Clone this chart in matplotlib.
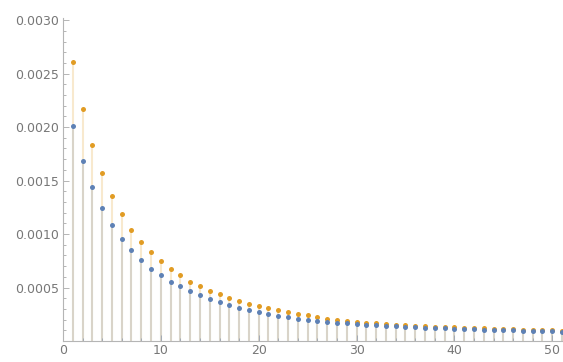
import matplotlib; matplotlib.use("Agg")
import matplotlib.pyplot as plt
from matplotlib.ticker import MultipleLocator, FormatStrFormatter

# ---- data ----
n = list(range(1, 52))
orange = [0.00261, 0.00217, 0.00183, 0.00157, 0.00136, 0.00119, 0.00104, 0.00093, 0.00083, 0.00075,
          0.00067, 0.00062, 0.00055, 0.00051, 0.00047, 0.00044, 0.00040, 0.00037, 0.00035, 0.00033,
          0.00031, 0.00029, 0.00027, 0.00025, 0.00024, 0.00022, 0.00021, 0.00020, 0.00019, 0.00018,
          0.00017, 0.00017, 0.00016, 0.00015, 0.00015, 0.00014, 0.00014, 0.00013, 0.00013, 0.00013,
          0.00012, 0.00012, 0.00012, 0.00011, 0.00011, 0.00011, 0.00010, 0.00010, 0.00010, 0.00010,
          0.00009]
blue = [0.00201, 0.00168, 0.00144, 0.00124, 0.00108, 0.00095, 0.00085, 0.00076, 0.00067, 0.00062,
        0.00055, 0.00051, 0.00047, 0.00043, 0.00039, 0.00036, 0.00034, 0.00031, 0.00029, 0.00027,
        0.00025, 0.00023, 0.00022, 0.00021, 0.00020, 0.00019, 0.00018, 0.00017, 0.00017, 0.00016,
        0.00015, 0.00015, 0.00014, 0.00014, 0.00013, 0.00013, 0.00012, 0.00012, 0.00012, 0.00011,
        0.00011, 0.00011, 0.00010, 0.00010, 0.00010, 0.00010, 0.00009, 0.00009, 0.00009, 0.00009,
        0.00008]

c_blue, c_orange = "#5E81B5", "#E19C24"
axis_c, text_c = "#b5b5b5", "#777777"

fig = plt.figure(figsize=(5.63, 3.62), dpi=100)
ax = fig.add_axes([63/563, 21/362, 500/563, 323/362])

# stems (filling to axis), then points
ax.vlines(n, 0, orange, colors=c_orange, alpha=0.22, lw=1.5, zorder=1)
ax.vlines(n, 0, blue, colors=c_blue, alpha=0.2, lw=1.5, zorder=2)
ax.plot(n, blue, "o", color=c_blue, ms=3.6, mec="none", zorder=4)
ax.plot(n, orange, "o", color=c_orange, ms=3.6, mec="none", zorder=3)

ax.set_xlim(0, 51.1)
ax.set_ylim(0, 0.00302)
for s in ("top", "right"): ax.spines[s].set_visible(False)
for s in ("left", "bottom"): ax.spines[s].set_color(axis_c); ax.spines[s].set_linewidth(0.8)
ax.xaxis.set_major_locator(MultipleLocator(10)); ax.xaxis.set_minor_locator(MultipleLocator(2))
ax.yaxis.set_major_locator(MultipleLocator(0.0005)); ax.yaxis.set_minor_locator(MultipleLocator(0.0001))
ax.yaxis.set_major_formatter(FormatStrFormatter("%.4f"))
ax.set_yticks([0.0005, 0.0010, 0.0015, 0.0020, 0.0025, 0.0030])
ax.tick_params(which="both", direction="in", color=axis_c, labelcolor=text_c, labelsize=9, width=0.7)
ax.tick_params(which="major", length=4, pad=3)
ax.tick_params(which="minor", length=2)
ax.tick_params(axis="x", pad=2)

fig.savefig("out.png", dpi=100)
